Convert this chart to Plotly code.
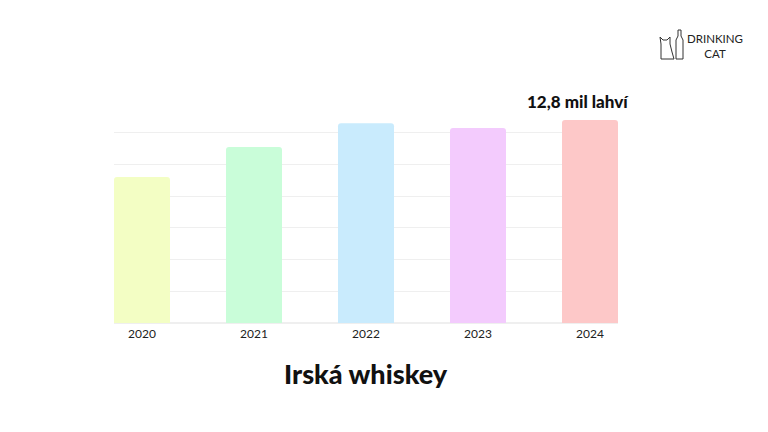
import plotly.graph_objects as go

years = ["2020", "2021", "2022", "2023", "2024"]
values = [9.2, 11.1, 12.6, 12.3, 12.8]
colors = ["#F3FEC4", "#C9FDD9", "#C9EBFD", "#F3CBFD", "#FDC8C8"]
title_text = "Irská whiskey"
label_text = "12,8 mil lahví"

OFF = 8  # page body margin
L, R, T, B = 114, 618, 120, 323  # screen pixel coords of plot area

def px(x):
    return (x - L) / (R - L)

def py(y):
    return (B - y) / (B - T)

fig = go.Figure(go.Bar(
    x=years, y=values, marker_color=colors, width=0.5,
    marker_line_width=0, hoverinfo="skip",
))

fig.update_layout(
    width=768, height=432,
    margin=dict(l=L - OFF, r=768 - (R - OFF), t=T - OFF, b=432 - (B - OFF)),
    paper_bgcolor="white", plot_bgcolor="white",
    showlegend=False, barcornerradius=3,
    font=dict(family="Lato", color="#222"),
)
fig.update_xaxes(range=[-0.25, 4.25], showgrid=False, showline=False,
                 ticks="", ticklabelstandoff=2,
                 tickfont=dict(size=12, color="#222", family="Lato"))
fig.update_yaxes(range=[0, 12.8], dtick=2, showgrid=True, gridcolor="#efefef",
                 gridwidth=1, showticklabels=False, zeroline=True,
                 zerolinecolor="#efefef", ticks="")

fig.add_annotation(x=4, y=values[4], xref="x", yref="y", text=label_text,
                   showarrow=False, yanchor="bottom", yshift=6, xshift=-12,
                   font=dict(size=17, color="#111", family="Lato", weight=900))
fig.add_annotation(x=px(366), y=py(373), xref="paper", yref="paper",
                   text=title_text, showarrow=False, xanchor="center", yanchor="middle",
                   font=dict(size=27, color="#111", family="Lato", weight=900))
fig.add_annotation(x=px(685), y=py(46), xref="paper", yref="paper",
                   text="DRINKING<br>CAT", showarrow=False, xanchor="left",
                   yanchor="middle", align="center",
                   font=dict(size=11.5, color="#222", family="Lato"))

def path(points, close=True):
    s = "M " + " L ".join(f"{px(a)},{py(b)}" for a, b in points)
    return s + (" Z" if close else "")

bottle = [(676, 59), (676, 40), (678, 36), (678, 30), (681, 30), (681, 36), (683, 40), (683, 59)]
cat = [(661, 59), (661, 44), (660, 37), (663, 40), (667, 40), (670, 37), (670, 44), (672, 52), (674, 59)]
for pts in (bottle, cat):
    fig.add_shape(type="path", path=path(pts), xref="paper", yref="paper",
                  line=dict(color="#333", width=1))

fig.write_html("out.html")
